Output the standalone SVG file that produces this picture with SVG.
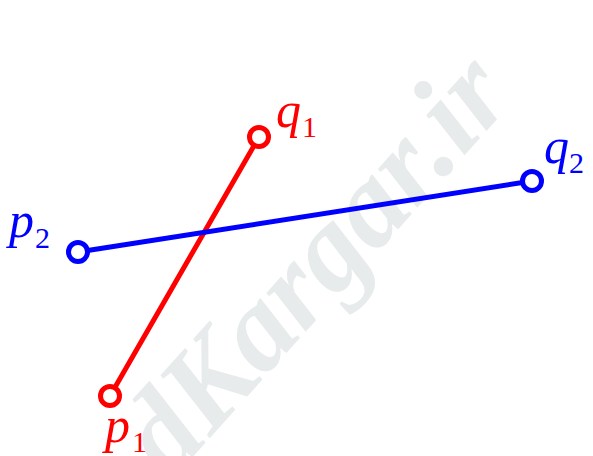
<svg xmlns="http://www.w3.org/2000/svg" width="593" height="456" viewBox="0 0 593 456">
<style>
.wm{font-family:"Liberation Serif",serif;font-style:italic;font-weight:bold;fill:#e7ebeb}
.lbl{font-family:"Liberation Serif",serif;font-style:italic;font-size:50px}
.sub{font-family:"Liberation Serif",serif;font-size:30px}
.red{fill:#ff0000;stroke:none}
.blue{fill:#0000ff;stroke:none}
.seg{stroke-width:5;fill:none;stroke-linecap:round}
.pt{fill:#ffffff;stroke-width:5}
</style>
<rect width="593" height="456" fill="#ffffff"/>
<text class="wm" font-size="120" text-anchor="end" transform="translate(516,98) rotate(-48)">dKargar.ir</text>
<g id="connectors">
<line class="seg" x1="110" y1="396" x2="259" y2="137" stroke="#ff0000"/>
<line class="seg" x1="78" y1="252" x2="532" y2="181" stroke="#0000ff"/>
</g>
<g id="p1">
<circle class="pt" cx="110" cy="396" r="9.5" stroke="#ff0000"/>
<text class="lbl red" x="105" y="442">p</text><text class="sub red" x="132" y="452">1</text>
</g>
<g id="q1">
<circle class="pt" cx="259" cy="137" r="9.5" stroke="#ff0000"/>
<text class="lbl red" x="276" y="127">q</text><text class="sub red" x="302" y="137">1</text>
</g>
<g id="p2">
<circle class="pt" cx="78" cy="252" r="9.5" stroke="#0000ff"/>
<text class="lbl blue" x="9" y="237">p</text><text class="sub blue" x="35" y="248">2</text>
</g>
<g id="q2">
<circle class="pt" cx="532" cy="181" r="9.5" stroke="#0000ff"/>
<text class="lbl blue" x="544" y="163">q</text><text class="sub blue" x="569" y="173">2</text>
</g>
</svg>
